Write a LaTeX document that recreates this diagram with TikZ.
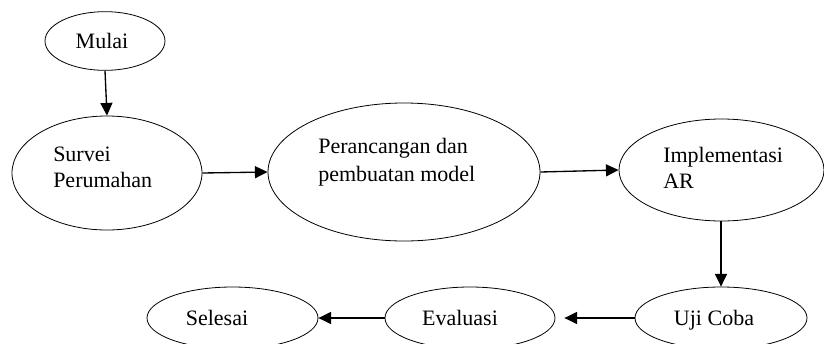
\documentclass[tikz,border=0pt]{standalone}
\usepackage{fontspec}
\setmainfont{Liberation Serif}
\usetikzlibrary{shapes.geometric,arrows.meta}
\begin{document}
\begin{tikzpicture}[x=0.75pt,y=-0.75pt,
  ell/.style={draw, ellipse, line width=0.6pt, inner sep=0pt},
  txt/.style={inner sep=0pt, font=\fontsize{16.5pt}{19.5pt}\selectfont},
  arr/.style={line width=1pt, -{Triangle[length=9.5pt,width=9pt]}}]
\useasboundingbox (0,0) rectangle (824,343);
\clip (0,0) rectangle (824,343);
% ellipses
\node[ell, minimum width=90pt, minimum height=44pt] (mulai) at (105,41) {};
\node[ell, minimum width=142.5pt, minimum height=85.5pt] (survei) at (107,173) {};
\node[ell, minimum width=204pt, minimum height=103.5pt] (peran) at (404,172) {};
\node[ell, minimum width=153.75pt, minimum height=76.5pt] (impl) at (721.5,170) {};
\node[ell, minimum width=129pt, minimum height=46.5pt] (uji) at (721,318) {};
\node[ell, minimum width=127.5pt, minimum height=46.5pt] (eval) at (470,318) {};
\node[ell, minimum width=128.25pt, minimum height=46.5pt] (selesai) at (232.5,318) {};
% texts
\node[txt, anchor=base] (tmulai) at (102,48) {Mulai};
\node[txt, anchor=base west] (ts1) at (53,161) {Survei};
\node[txt, anchor=base west] (ts2) at (53,187) {Perumahan};
\node[txt, anchor=base west] (tp1) at (318,153) {Perancangan dan};
\node[txt, anchor=base west] (tp2) at (318,181) {pembuatan model};
\node[txt, anchor=base west] (ti1) at (663,162) {Implementasi};
\node[txt, anchor=base west] (ti2) at (663,188) {AR};
\node[txt, anchor=base] (tuji) at (714,325) {Uji Coba};
\node[txt, anchor=base] (teval) at (460,325) {Evaluasi};
\node[txt, anchor=base] (tsel) at (217,325) {Selesai};
% connectors
\draw[arr] (mulai.south) -- (survei.north);
\draw[arr] (survei.east) -- (peran.west);
\draw[arr] (peran.east) -- (impl.west);
\draw[arr] (impl.south -| uji.north) -- (uji.north);
\draw[arr, shorten >=6.75pt] (uji.west) -- (eval.east);
\draw[arr] (eval.west) -- (selesai.east);
\end{tikzpicture}
\end{document}
